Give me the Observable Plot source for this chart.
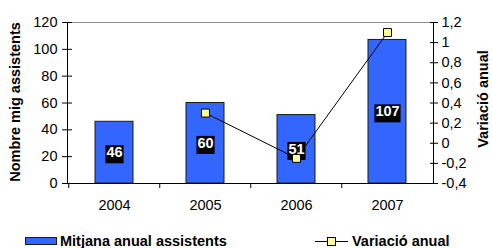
<!DOCTYPE html>
<html>
<head>
<meta charset="utf-8">
<script src="https://cdn.jsdelivr.net/npm/d3@7"></script>
<script src="https://cdn.jsdelivr.net/npm/@observablehq/plot@0.6"></script>
<style>
  body { margin: 0; background: #fff; font-family: "Liberation Sans", Arial, sans-serif; }
  #legend { position: relative; width: 492px; height: 20px; font-weight: bold; font-size: 14.5px; color: #000; }
  #legend .item { position: absolute; top: 3px; height: 20px; display: flex; align-items: center; white-space: nowrap; }
  #legend .swatch { display: inline-block; width: 30px; height: 6px; border: 1px solid #1a1a1a; margin-right: 3px; }
  #legend svg { margin-right: 4px; }
</style>
</head>
<body>
<div id="chart"></div>
<div id="legend"></div>
<script>
// ---- data ----
const years = ["2004", "2005", "2006", "2007"];
const attendees = [46, 60, 51, 107];
const variation = [null, 0.30, -0.15, 1.10];
const leftTicks = [0, 20, 40, 60, 80, 100, 120];
const rightTicks = [-0.4, -0.2, 0, 0.2, 0.4, 0.6, 0.8, 1, 1.2];
const seriesNames = ["Mitjana anual assistents", "Variació anual"];
const axisTitles = ["Nombre mig assistents", "Variació anual"];

// ---- styling ----
const barColor = "#3366ff";
const markerColor = "#ffff99";
const font = "'Liberation Sans', Arial, sans-serif";

const rows = years.map((year, i) => ({year, attendees: attendees[i], variation: variation[i]}));
const lineRows = rows.filter(d => d.variation != null);

const leftMax = leftTicks[leftTicks.length - 1];
const rMin = rightTicks[0], rMax = rightTicks[rightTicks.length - 1];
const toLeft = v => (v - rMin) / (rMax - rMin) * leftMax;
const fromLeft = v => v / leftMax * (rMax - rMin) + rMin;
const fmt = v => String(+v.toFixed(1)).replace(".", ",");

const W = 492, H = 228, mL = 67, mR = 59, mT = 22, mB = 45;
const step = (W - mL - mR) / years.length;

const chart = Plot.plot({
  width: W, height: H,
  marginLeft: mL, marginRight: mR, marginTop: mT, marginBottom: mB,
  style: {fontFamily: font, fontSize: "14.5px", color: "#000", background: "#fff"},
  x: {type: "band", domain: years, paddingInner: 0.585, paddingOuter: 0.2925},
  y: {domain: [0, leftMax]},
  marks: [
    Plot.barY(rows, {x: "year", y: "attendees", fill: barColor, stroke: "#1a1a1a", strokeWidth: 1}),
    Plot.frame({stroke: "#000"}),
    Plot.ruleY([leftMax], {stroke: "#8c8c8c"}),
    // left axis: crossing ticks + labels
    Plot.axisY({ticks: leftTicks, tickSize: 10, dx: 5, tickFormat: () => "", label: null}),
    Plot.axisY({ticks: leftTicks, tickSize: 0, tickPadding: 10, label: null}),
    // right axis
    Plot.axisY({anchor: "right", ticks: rightTicks.map(toLeft), tickSize: 8, dx: -4, tickFormat: () => "", label: null}),
    Plot.axisY({anchor: "right", ticks: rightTicks.map(toLeft), tickSize: 0, tickPadding: 8,
      tickFormat: v => fmt(fromLeft(v)), label: null}),
    // x axis: ticks at band boundaries, labels centered
    Plot.axisX({tickSize: 5, dx: -step / 2, tickFormat: () => "", label: null}),
    Plot.axisX({tickSize: 0, tickPadding: 16, label: null}),
    // axis titles
    Plot.text([axisTitles[0]], {frameAnchor: "left", textAnchor: "middle", rotate: -90, dx: -52, dy: -1,
      fontWeight: "bold", fontSize: 14.5}),
    Plot.text([axisTitles[1]], {frameAnchor: "right", textAnchor: "middle", rotate: -90, dx: 50, dy: -4,
      fontWeight: "bold", fontSize: 14.5}),
    // variation line
    Plot.line(lineRows, {x: "year", y: d => toLeft(d.variation), stroke: "#000", strokeWidth: 1}),
    // bar value labels
    Plot.text(rows, {x: "year", y: d => d.attendees / 2, text: d => String(d.attendees),
      fill: "#fff", fontWeight: "bold", fontSize: 14.5}),
    Plot.dot(lineRows, {x: "year", y: d => toLeft(d.variation), symbol: "square", r: 4.5,
      fill: markerColor, stroke: "#000", strokeWidth: 1})
  ]
});

document.getElementById("chart").appendChild(chart);

// black boxes behind bar value labels
const labelSet = new Set(attendees.map(String));
chart.querySelectorAll('g[aria-label="text"]').forEach(g => {
  const texts = Array.from(g.querySelectorAll("text"));
  if (!texts.length || !texts.every(t => labelSet.has(t.textContent))) return;
  texts.forEach(t => {
    const b = t.getBBox();
    const r = document.createElementNS("http://www.w3.org/2000/svg", "rect");
    r.setAttribute("x", b.x - 1);
    r.setAttribute("y", b.y + 1);
    r.setAttribute("width", b.width + 2);
    r.setAttribute("height", b.height + 2);
    r.setAttribute("fill", "#000");
    r.setAttribute("stroke", "none");
    if (t.getAttribute("transform")) r.setAttribute("transform", t.getAttribute("transform"));
    t.parentNode.insertBefore(r, t);
  });
});

// legend
const legend = document.getElementById("legend");
const item1 = document.createElement("div");
item1.className = "item";
item1.style.left = "25px";
item1.innerHTML = `<span class="swatch" style="background:${barColor}"></span><span>${seriesNames[0]}</span>`;
const item2 = document.createElement("div");
item2.className = "item";
item2.style.left = "315px";
item2.innerHTML = `<svg width="33" height="12"><line x1="0" x2="33" y1="6.5" y2="6.5" stroke="#000"/>` +
  `<rect x="12.5" y="2.5" width="8" height="8" fill="${markerColor}" stroke="#000"/></svg><span>${seriesNames[1]}</span>`;
legend.appendChild(item1);
legend.appendChild(item2);
</script>
</body>
</html>
